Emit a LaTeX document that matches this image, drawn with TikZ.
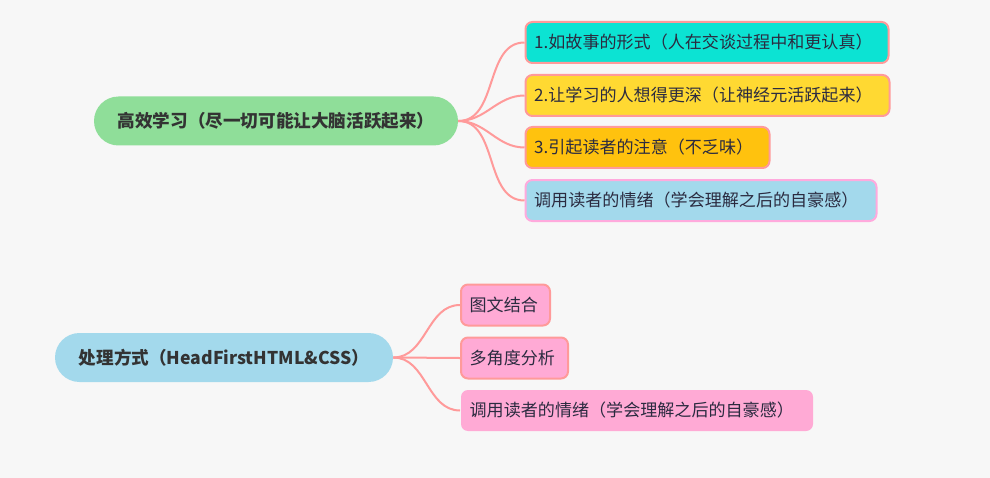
\documentclass[tikz,border=0pt]{standalone}
\usepackage{fontspec}
\usepackage{tikz}
\usetikzlibrary{positioning}
\usepackage{xcolor}
\newfontfamily\cjk{Noto Sans CJK SC}
\definecolor{bgray}{HTML}{F7F7F7}
\definecolor{rootgreen}{HTML}{8FDE99}
\definecolor{rootblue}{HTML}{A3D9EC}
\definecolor{leafteal}{HTML}{0CE3D3}
\definecolor{leafyellow}{HTML}{FFD932}
\definecolor{leafamber}{HTML}{FFC20E}
\definecolor{leafblue}{HTML}{A3D9EC}
\definecolor{leafpink}{HTML}{FFAAD5}
\definecolor{linkpink}{HTML}{FF9A9A}
\definecolor{edgepink}{HTML}{FFAADD}
\definecolor{inkgray}{HTML}{333333}
\definecolor{inknavy}{HTML}{2B2B40}

\begin{document}
\begin{tikzpicture}[x=0.75pt, y=-0.75pt, every node/.style={font=\cjk, text=inkgray},
    root/.style={rounded corners=24.5*0.75pt, minimum height=49*0.75pt, font=\cjk\bfseries\fontsize{13.2}{15}\selectfont},
    leaf/.style={draw=linkpink, line width=1.5pt, rounded corners=7*0.75pt, anchor=west, text=inknavy,
        minimum height=41*0.75pt, inner xsep=6.5pt, text width=#1*0.75pt-13pt, align=left,
        font=\cjk\fontsize{12.8}{14}\selectfont},
    branch/.style={draw=linkpink, line width=1.5pt}]
        % Background
        \fill[bgray] (0,0) rectangle (990,478);
        \useasboundingbox (0,0) rectangle (990,478);
        % Roots
        \node[root, fill=rootgreen, minimum width=364*0.75pt] (learn) at (276,121) {高效学习（尽一切可能让大脑活跃起来）};
        \node[root, fill=rootblue, minimum width=338*0.75pt] (method) at (224,357.5) {处理方式（HeadFirstHTML\&CSS）};
        % Leaves of learn
        \node[leaf=363, fill=leafteal] (story) at (524.5,42.5) {1.如故事的形式（人在交谈过程中和更认真）};
        \node[leaf=364, fill=leafyellow] (deeper) at (524.5,95.5) {2.让学习的人想得更深（让神经元活跃起来）};
        \node[leaf=244, fill=leafamber] (notice) at (524.5,147.5) {3.引起读者的注意（不乏味）};
        \node[leaf=351, fill=leafblue, draw=edgepink] (mood) at (524.5,200.5) {调用读者的情绪（学会理解之后的自豪感）};
        % Leaves of method
        \node[leaf=89, fill=leafpink] (picture) at (460,305) {图文结合};
        \node[leaf=107, fill=leafpink] (angles) at (460,358) {多角度分析};
        \node[leaf=352, fill=leafpink, draw=none] (pride) at (460,410.5) {调用读者的情绪（学会理解之后的自豪感）};
        % Branches
        \foreach \leaf in {story, deeper, notice, mood}
            \draw[branch] (learn.east) to[out=0, in=180] (\leaf.west);
        \foreach \leaf in {picture, angles, pride}
            \draw[branch] (method.east) to[out=0, in=180] (\leaf.west);
    \end{tikzpicture}
\end{document}
